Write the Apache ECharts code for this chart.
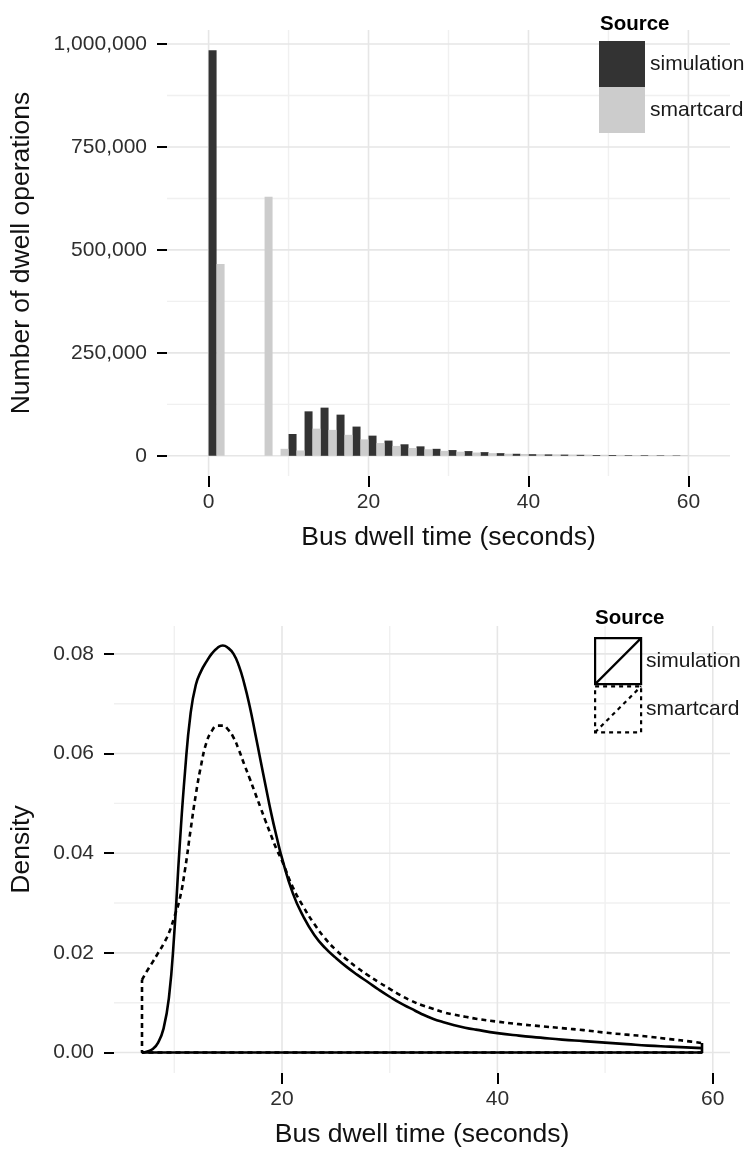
<!DOCTYPE html>
<html><head><meta charset="utf-8">
<script src="https://cdn.jsdelivr.net/npm/echarts@6/dist/echarts.min.js"></script>
<style>html,body{margin:0;padding:0;background:#fff}#c{width:750px;height:1156px}</style>
</head><body><div id="c"></div>
<script>
// ---------- data ----------
const sourceNames = ['simulation', 'smartcard'];

// histogram: bins of 2 s, left edge of each bin
const binStart = [0, 2, 4, 6, 8, 10, 12, 14, 16, 18, 20, 22, 24, 26, 28, 30, 32, 34, 36, 38, 40, 42, 44, 46, 48, 50, 52, 54, 56, 58];
const histSimulation = [985000, 0, 0, 0, 0, 53000, 108000, 117000, 100000, 71000, 49000, 37000, 28000, 23000, 17000, 14000, 11500, 9000, 6500, 5000, 4000, 3500, 3000, 2500, 2000, 2000, 1500, 1500, 1200, 1000];
const histSmartcard  = [466000, 0, 0, 629000, 17000, 13000, 66000, 63000, 51000, 40000, 31000, 24000, 19000, 16000, 12000, 10000, 8000, 6500, 5000, 4500, 4000, 3500, 3000, 2800, 2500, 2200, 2000, 1800, 1500, 1200];

// density curves
const densityX = [7, 7.5, 8, 8.5, 9, 9.5, 10, 10.5, 11, 11.5, 12, 12.5, 13, 13.5, 14, 14.5, 15, 15.5, 16, 16.5, 17, 17.5, 18, 18.5, 19, 19.5, 20, 21, 22, 23, 24, 25, 26, 27, 28, 29, 30, 31, 32, 33, 34, 35, 36, 37, 38, 40, 42, 44, 46, 48, 50, 52, 54, 56, 58, 59];
const densitySimulation = [0, 0.0002, 0.0007, 0.0020, 0.0048, 0.0110, 0.0240, 0.0415, 0.0565, 0.0678, 0.0738, 0.0766, 0.0785, 0.0801, 0.0812, 0.0817, 0.0812, 0.0800, 0.0776, 0.0740, 0.0695, 0.0642, 0.0587, 0.0533, 0.0480, 0.0433, 0.0390, 0.0320, 0.0272, 0.0236, 0.0210, 0.0190, 0.0172, 0.0156, 0.0141, 0.0126, 0.0112, 0.0099, 0.0088, 0.0077, 0.0068, 0.0061, 0.0055, 0.0050, 0.0046, 0.0039, 0.0034, 0.0030, 0.0026, 0.0023, 0.0020, 0.0017, 0.0014, 0.0012, 0.0010, 0.0009];
const densitySmartcard  = [0.0146, 0.0165, 0.0182, 0.0200, 0.0218, 0.0240, 0.0272, 0.0308, 0.0368, 0.0445, 0.0518, 0.0578, 0.0623, 0.0646, 0.0656, 0.0656, 0.0648, 0.0632, 0.0607, 0.0578, 0.0550, 0.0521, 0.0492, 0.0463, 0.0435, 0.0408, 0.0385, 0.0332, 0.0292, 0.0258, 0.0229, 0.0206, 0.0187, 0.0170, 0.0155, 0.0141, 0.0128, 0.0115, 0.0104, 0.0095, 0.0088, 0.0081, 0.0076, 0.0072, 0.0068, 0.0062, 0.0057, 0.0053, 0.0049, 0.0045, 0.0040, 0.0036, 0.0032, 0.0027, 0.0022, 0.0019];

// ticks
const histXTicks = [0, 20, 40, 60];
const histXMinor = [10, 30, 50];
const histYTicks = [0, 250000, 500000, 750000, 1000000];
const histYMinor = [125000, 375000, 625000, 875000];
const densXTicks = [20, 40, 60];
const densXMinor = [10, 30, 50];
const densYTicks = [0, 0.02, 0.04, 0.06, 0.08];
const densYMinor = [0.01, 0.03, 0.05, 0.07];

// ---------- layout / style ----------
const FONT = '"Liberation Sans", Arial, Helvetica, sans-serif';
const G0 = {left: 167, top: 30, width: 563, height: 446};
const G1 = {left: 113, top: 626, width: 617, height: 447};
const X0 = {min: -5.2, max: 65.2};
const Y0 = {min: -49000, max: 1034000};
const X1 = {min: 4.4, max: 61.6};
const Y1 = {min: -0.0041, max: 0.0856};
const DARK = '#333333', LIGHT = '#cccccc';
const pxPerSec0 = G0.width / (X0.max - X0.min);

function gridData(xMaj, xMin, yMaj, yMin) {
  const d = [];
  xMin.forEach(v => d.push([v, 0, 0]));
  yMin.forEach(v => d.push([v, 1, 0]));
  xMaj.forEach(v => d.push([v, 0, 1]));
  yMaj.forEach(v => d.push([v, 1, 1]));
  return d;
}
function gridRender(params, api) {
  const cs = params.coordSys;
  const v = api.value(0), orient = api.value(1), major = api.value(2);
  let shape;
  if (orient === 0) {
    const px = api.coord([v, 0])[0];
    shape = {x1: px, y1: cs.y, x2: px, y2: cs.y + cs.height};
  } else {
    const py = api.coord([0, v])[1];
    shape = {x1: cs.x, y1: py, x2: cs.x + cs.width, y2: py};
  }
  return {type: 'line', shape: shape, silent: true,
    style: {stroke: major ? '#e6e6e6' : '#f0f0f0', lineWidth: major ? 1.6 : 1.4}};
}
function gridSeries(idx, xMaj, xMin, yMaj, yMin) {
  return {type: 'custom', name: 'grid' + idx, xAxisIndex: idx, yAxisIndex: idx, z: 0, silent: true,
    renderItem: gridRender, data: gridData(xMaj, xMin, yMaj, yMin), animation: false};
}
const tickLabel = {fontSize: 21, color: '#2e2e2e', fontFamily: FONT};
const axisTitle = {fontSize: 26.5, color: '#111', fontFamily: FONT};

function xAxisCfg(idx, rng, ticks) {
  return {gridIndex: idx, type: 'value', min: rng.min, max: rng.max,
    axisLine: {show: false, onZero: false}, splitLine: {show: false},
    axisTick: {show: true, length: 11, customValues: ticks, lineStyle: {color: '#000', width: 2}},
    axisLabel: {customValues: ticks, margin: 16, ...tickLabel},
    name: 'Bus dwell time (seconds)', nameLocation: 'middle', nameGap: 48, nameTextStyle: axisTitle};
}
function yAxisCfg(idx, rng, ticks, fmt, title, gap) {
  return {gridIndex: idx, type: 'value', min: rng.min, max: rng.max,
    axisLine: {show: false, onZero: false}, splitLine: {show: false},
    axisTick: {show: true, length: 10, customValues: ticks, lineStyle: {color: '#000', width: 2}},
    axisLabel: {customValues: ticks, margin: 20, formatter: fmt, ...tickLabel},
    name: title, nameLocation: 'middle', nameGap: gap, nameTextStyle: axisTitle};
}

// dodged bars: simulation in the left half of each bin, smartcard in the right half
const simBars = binStart.map((b, i) => [b + 0.5, histSimulation[i]]);
const smartBars = binStart.map((b, i) => [b + 1.5, histSmartcard[i]]);

const simCurve = densityX.map((x, i) => [x, densitySimulation[i]]);
const smartCurve = densityX.map((x, i) => [x, densitySmartcard[i]]);
function outline(xs, ys) {
  const n = xs.length - 1;
  return [[xs[n], ys[n]], [xs[n], 0], [xs[0], 0], [xs[0], ys[0]]];
}
const LW = 2.6;

const chart = echarts.init(document.getElementById('c'), null, {renderer: 'canvas'});
chart.setOption({
  animation: false,
  backgroundColor: '#fff',
  textStyle: {fontFamily: FONT},
  title: [
    {text: 'Source', left: 600, top: 14, padding: 0, textStyle: {fontSize: 20.5, fontWeight: 'bold', color: '#000', fontFamily: FONT}},
    {text: 'Source', left: 595, top: 608, padding: 0, textStyle: {fontSize: 20.5, fontWeight: 'bold', color: '#000', fontFamily: FONT}}
  ],
  legend: [
    {orient: 'vertical', left: 599, top: 41, padding: 0, itemGap: 0, itemWidth: 46, itemHeight: 46,
      icon: 'rect', selectedMode: false, data: sourceNames,
      textStyle: {fontSize: 21, color: '#1a1a1a', fontFamily: FONT}},
    {orient: 'vertical', left: 594, top: 637, padding: 0, itemGap: 0, itemWidth: 46, itemHeight: 46,
      icon: 'path://M0,0L10,0L10,10L0,10ZM0,10L10,0', selectedMode: false,
      data: [
        {name: sourceNames[0], itemStyle: {color: 'rgba(0,0,0,0)', borderColor: '#000', borderWidth: 2.2, borderType: 'solid'}},
        {name: sourceNames[1], itemStyle: {color: 'rgba(0,0,0,0)', borderColor: '#000', borderWidth: 2.2, borderType: [4, 4]}}
      ],
      textStyle: {fontSize: 21, color: '#1a1a1a', fontFamily: FONT}}
  ],
  grid: [
    {left: G0.left, top: G0.top, width: G0.width, height: G0.height, containLabel: false},
    {left: G1.left, top: G1.top, width: G1.width, height: G1.height, containLabel: false}
  ],
  xAxis: [xAxisCfg(0, X0, histXTicks), xAxisCfg(1, X1, densXTicks)],
  yAxis: [
    yAxisCfg(0, Y0, histYTicks, v => Number(v).toLocaleString('en-US'), 'Number of dwell operations', 132),
    yAxisCfg(1, Y1, densYTicks, v => Number(v).toFixed(2), 'Density', 79)
  ],
  series: [
    {type: 'bar', name: sourceNames[0], xAxisIndex: 0, yAxisIndex: 0, data: simBars,
      barWidth: pxPerSec0, barGap: '-100%', itemStyle: {color: DARK}, z: 2},
    {type: 'bar', name: sourceNames[1], xAxisIndex: 0, yAxisIndex: 0, data: smartBars,
      barWidth: pxPerSec0, barGap: '-100%', itemStyle: {color: LIGHT}, z: 2},
    gridSeries(0, histXTicks, histXMinor, histYTicks, histYMinor),
    gridSeries(1, densXTicks, densXMinor, densYTicks, densYMinor),
    {type: 'line', name: sourceNames[1], xAxisIndex: 1, yAxisIndex: 1, data: smartCurve,
      smooth: 0.5, symbol: 'none', lineStyle: {color: '#000', width: LW, type: [5, 4]}, z: 3},
    {type: 'line', name: 'smartcard-outline', xAxisIndex: 1, yAxisIndex: 1, data: outline(densityX, densitySmartcard),
      symbol: 'none', lineStyle: {color: '#000', width: LW, type: [5, 4]}, z: 3},
    {type: 'line', name: sourceNames[0], xAxisIndex: 1, yAxisIndex: 1, data: simCurve,
      smooth: 0.5, symbol: 'none', lineStyle: {color: '#000', width: LW}, z: 4},
    {type: 'line', name: 'simulation-outline', xAxisIndex: 1, yAxisIndex: 1, data: outline(densityX, densitySimulation),
      symbol: 'none', lineStyle: {color: '#000', width: LW}, z: 4}
  ]
});
</script></body></html>
